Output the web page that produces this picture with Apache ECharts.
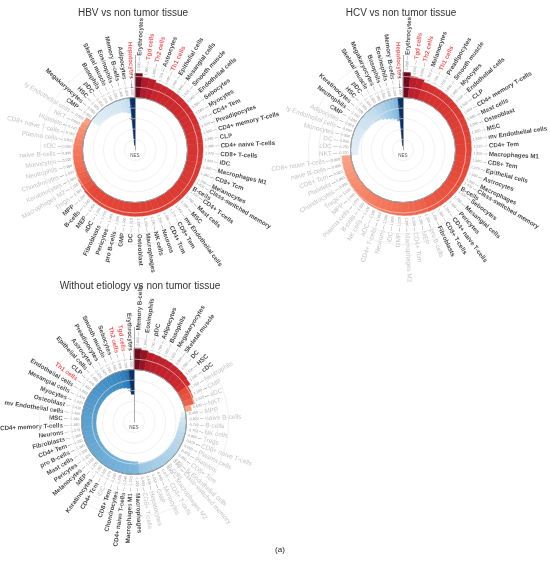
<!DOCTYPE html>
<html>
<head>
<meta charset="utf-8">
<script src="https://cdn.jsdelivr.net/npm/echarts@6/dist/echarts.min.js"></script>
<style>
  html, body { margin: 0; padding: 0; background: #fff; }
  #main { width: 550px; height: 561px; }
</style>
</head>
<body>
<div id="main"></div>
<script>
// HBV vs non tumor tissue (clockwise from 12 o'clock, NES descending)
const CATS_HBV = ['Erythrocytes','Tgd cells','Th2 cells','Astrocytes','Th1 cells','Epithelial cells','Mesangial cells','Smooth muscle','Endothelial cells','Sebocytes','Myocytes','CD4+ Tem','Preadipocytes','CD4+ memory T-cells','CLP','CD4+ naive T-cells','CD8+ T-cells','iDC','Macrophages M1','CD8+ Tcm','Melanocytes','Class-switched memory B-cells','CD4+ T-cells','Mast cells','MSC','mv Endothelial cells','CD8+ Tem','CD4+ Tcm','Neurons','NK cells','Macrophages','Osteoblast','DC','GMP','pro B-cells','Pericytes','Fibroblasts','aDC','MEP','B-cells','MPP','Tregs','Macrophages M2','Keratinocytes','Chondrocytes','Neutrophils','Monocytes','naive B-cells','cDC','Plasma cells','CD8+ naive T-cells','Platelets','NKT','ly Endothelial cells','CMP','Megakaryocytes','HSC','pDC','Basophils','Skeletal muscle','Eosinophils','Memory B-cells','Adipocytes','Hepatocytes'];
const NES_HBV = [2.30,1.98,1.92,1.72,1.69,1.66,1.64,1.62,1.60,1.58,1.56,1.55,1.53,1.50,1.49,1.48,1.47,1.46,1.45,1.44,1.43,1.42,1.41,1.40,1.39,1.38,1.37,1.36,1.35,1.34,1.33,1.32,1.31,1.30,1.29,1.28,1.27,1.26,1.25,1.24,1.22,1.15,1.10,1.05,1.00,0.96,0.92,0.89,0.85,0.80,0.75,0.71,0.65,0.55,-0.90,-0.95,-1.00,-1.05,-1.10,-1.15,-1.20,-1.30,-1.45,-4.55];
const GREY_HBV = ['Tregs','Macrophages M2','Keratinocytes','Chondrocytes','Neutrophils','Monocytes','naive B-cells','cDC','Plasma cells','CD8+ naive T-cells','Platelets','NKT','ly Endothelial cells'];

// HCV vs non tumor tissue
const CATS_HCV = ['Erythrocytes','Tgd cells','Th2 cells','Melanocytes','Th1 cells','Preadipocytes','Smooth muscle','Myocytes','Endothelial cells','CLP','CD4+ memory T-cells','Mast cells','Osteoblast','MSC','mv Endothelial cells','CD4+ Tem','Macrophages M1','CD8+ Tem','Epithelial cells','Astrocytes','Macrophages','Class-switched memory B-cells','Sebocytes','Mesangial cells','Pericytes','CD4+ naive T-cells','CD8+ T-cells','Fibroblasts','pro B-cells','MEP','CD4+ Tcm','Macrophages M2','GMP','iDC','Neurons','CD4+ T-cells','aDC','NK cells','B-cells','Plasma cells','MPP','Tregs','Chondrocytes','Platelets','CD8+ Tcm','naive B-cells','CD8+ naive T-cells','NKT','cDC','DC','Monocytes','ly Endothelial cells','Adipocytes','CMP','Neutrophils','Keratinocytes','HSC','pDC','Skeletal muscle','Megakaryocytes','Basophils','Eosinophils','Memory B-cells','Hepatocytes'];
const NES_HCV = [2.40,2.05,2.00,1.75,1.72,1.70,1.68,1.66,1.64,1.62,1.60,1.58,1.56,1.55,1.53,1.51,1.50,1.48,1.47,1.46,1.45,1.43,1.42,1.40,1.39,1.38,1.36,1.35,1.30,1.28,1.26,1.24,1.22,1.20,1.18,1.16,1.14,1.12,1.10,1.07,1.04,1.01,0.98,0.95,0.92,0.89,0.86,-0.70,-0.75,-0.80,-0.85,-0.90,-0.95,-1.10,-1.15,-1.20,-1.30,-1.40,-1.55,-1.70,-1.85,-2.00,-2.20,-4.60];
const GREY_HCV = ['pro B-cells','MEP','CD4+ Tcm','Macrophages M2','GMP','iDC','Neurons','CD4+ T-cells','aDC','NK cells','B-cells','Plasma cells','MPP','Tregs','Chondrocytes','Platelets','CD8+ Tcm','naive B-cells','CD8+ naive T-cells','NKT','cDC','DC','Monocytes','ly Endothelial cells','Adipocytes'];

// Without etiology vs non tumor tissue
const CATS_NOE = ['Memory B-cells','Eosinophils','pDC','Adipocytes','Basophils','Megakaryocytes','Skeletal muscle','DC','HSC','cDC','Neutrophils','CMP','aDC','NKT','MPP','naive B-cells','B-cells','NK cells','Tregs','CD8+ naive T-cells','Plasma cells','Platelets','CD8+ Tcm','ly Endothelial cells','Class-switched memory B-cells','Macrophages M2','CD4+ T-cells','Monocytes','GMP','Hepatocytes','CD8+ T-cells','Macrophages','Macrophages M1','CD4+ naive T-cells','Chondrocytes','CD8+ Tem','iDC','CD4+ Tcm','Keratinocytes','MEP','Melanocytes','Pericytes','Mast cells','pro B-cells','CD4+ Tem','Fibroblasts','Neurons','CD4+ memory T-cells','MSC','mv Endothelial cells','Osteoblast','Myocytes','Mesangial cells','Endothelial cells','Th1 cells','CLP','Epithelial cells','Astrocytes','Preadipocytes','Smooth muscle','Sebocytes','Th2 cells','Tgd cells','Erythrocytes'];
const NES_NOE = [2.05,1.90,1.75,1.70,1.66,1.63,1.60,1.56,1.52,1.45,1.15,1.10,1.02,0.60,-0.45,-0.60,-0.70,-0.75,-0.80,-0.82,-0.85,-0.87,-0.89,-0.91,-0.93,-0.95,-0.97,-0.99,-1.01,-1.03,-1.05,-1.20,-1.22,-1.24,-1.25,-1.26,-1.27,-1.28,-1.29,-1.30,-1.31,-1.32,-1.33,-1.34,-1.35,-1.36,-1.37,-1.38,-1.39,-1.40,-1.41,-1.42,-1.43,-1.44,-1.46,-1.47,-1.48,-1.50,-1.52,-1.55,-1.58,-1.65,-1.75,-2.35];
const GREY_NOE = ['Neutrophils','CMP','aDC','NKT','MPP','naive B-cells','B-cells','NK cells','Tregs','CD8+ naive T-cells','Plasma cells','Platelets','CD8+ Tcm','ly Endothelial cells','Class-switched memory B-cells','Macrophages M2','CD4+ T-cells','Monocytes','GMP','Hepatocytes','CD8+ T-cells','iDC'];

const HIGHLIGHT = ['Tgd cells','Th1 cells','Th2 cells','Hepatocytes'];
const TITLES = ['HBV vs non tumor tissue','HCV vs non tumor tissue','Without etiology vs non tumor tissue'];
const TICK_LABELS = [-2, -1, 1, 2];

const FONT = 'Liberation Sans, Arial, sans-serif';
const RMIN = -5, RMAX = 4, RADIUS = 94.5;
const R0 = RADIUS * (0 - RMIN) / (RMAX - RMIN);
const PAD = 0.2;
const REDS = ['#f9a183','#f4765a','#e54636','#cf2a2e','#b71c2a','#6e0b1c'];
const BLUES = ['#08306b','#0b4f91','#2272b2','#3d8cc3','#73b1d8','#a3cce5','#c8e0ef','#e1eef7'];

const charts = [
  { cats: CATS_HBV, nes: NES_HBV, grey: GREY_HBV, center: [135, 150], title: TITLES[0], tx: 128, ty: 3 },
  { cats: CATS_HCV, nes: NES_HCV, grey: GREY_HCV, center: [403, 150], title: TITLES[1], tx: 396, ty: 3 },
  { cats: CATS_NOE, nes: NES_NOE, grey: GREY_NOE, center: [134, 422], title: TITLES[2], tx: 135, ty: 276 }
];

function barColor(v, vals) {
  const side = vals.filter(x => (v >= 0 ? x >= 0 : x < 0));
  const lo = Math.min(...side), hi = Math.max(...side);
  const t = hi === lo ? 1 : (v - lo) / (hi - lo);
  return echarts.color.lerp(t, v >= 0 ? REDS : BLUES);
}

// long names wrap onto a second line, as in the figure
function splitName(name) {
  const m = name.match(/^(.{18,}) (\S+)$/);
  return m ? [m[1], m[2]] : [name];
}

function labelItem(name, v, i, n, grey) {
  const theta = 90 - (i + 0.5) * 360 / n;
  const right = theta > -90;
  const num = v.toFixed(3);
  const st = grey.includes(name) ? 'g' : (HIGHLIGHT.includes(name) ? 'r' : 'b');
  const parts = splitName(name);
  let text = right
    ? '{v|' + num + '}{d| — }{' + st + '|' + parts[0] + '}'
    : '{' + st + '|' + parts[0] + '}{d| — }{v|' + num + '}';
  if (parts[1]) text += '\n{' + st + '|' + parts[1] + '}';
  return {
    value: [Math.max(v, 0) + PAD, name],
    label: { rotate: right ? theta : theta + 180, align: right ? 'left' : 'right', formatter: text }
  };
}

const option = {
  animation: false,
  title: charts.map(c => ({
    text: c.title, left: c.tx, top: c.ty, textAlign: 'center',
    textStyle: { fontFamily: FONT, fontSize: 10, fontWeight: 'normal', color: '#333' }
  })).concat([{
    text: '(a)', left: 275, top: 541, textAlign: 'center',
    textStyle: { fontFamily: FONT, fontSize: 8, fontWeight: 'normal', color: '#222' }
  }]),
  polar: [], angleAxis: [], radiusAxis: [], series: []
};

charts.forEach((c, k) => {
  const main = 2 * k, ring = 2 * k + 1;
  option.polar.push({ center: c.center, radius: RADIUS });
  option.polar.push({ center: c.center, radius: R0 });
  option.angleAxis.push({
    polarIndex: main, type: 'category', data: c.cats, startAngle: 90, clockwise: true,
    axisLine: { show: false }, axisTick: { show: false }, axisLabel: { show: false }, splitLine: { show: false }
  });
  option.angleAxis.push({
    polarIndex: ring, type: 'value', min: 0, max: 1, z: 10,
    axisLine: { show: true, lineStyle: { color: '#222', width: 0.8 } },
    axisTick: { show: false }, axisLabel: { show: false }, splitLine: { show: false }
  });
  option.radiusAxis.push({
    polarIndex: main, type: 'value', min: RMIN, max: RMAX, interval: 1, z: 12,
    name: 'NES', nameLocation: 'start', nameGap: 3,
    nameTextStyle: { fontFamily: FONT, fontSize: 4.5, color: '#555', verticalAlign: 'top' },
    axisLine: { show: true, lineStyle: { color: '#888', width: 0.7 } },
    axisTick: { show: false },
    axisLabel: {
      fontFamily: FONT, fontSize: 4.5, color: '#666', margin: 2,
      formatter: v => (TICK_LABELS.includes(v) ? String(v) : '')
    },
    splitLine: { show: true, lineStyle: { color: '#e8e8e8', width: 0.6 } }
  });
  option.radiusAxis.push({ polarIndex: ring, type: 'value', show: false, min: 0, max: 1 });

  option.series.push({
    type: 'bar', coordinateSystem: 'polar', polarIndex: main, barCategoryGap: '0%',
    silent: true,
    data: c.nes.map(v => {
      const col = barColor(v, c.nes);
      return { value: v, itemStyle: { color: col, borderColor: col, borderWidth: 0.5 } };
    })
  });
  option.series.push({
    type: 'scatter', coordinateSystem: 'polar', polarIndex: main, symbolSize: 1,
    silent: true, itemStyle: { color: 'transparent' },
    label: {
      show: true, position: 'inside', verticalAlign: 'middle', fontFamily: FONT, lineHeight: 6.5,
      rich: {
        v: { fontFamily: FONT, fontSize: 3.6, color: '#777' },
        d: { fontFamily: FONT, fontSize: 4.2, color: '#444' },
        b: { fontFamily: FONT, fontSize: 6.2, fontWeight: 'bold', color: '#111' },
        r: { fontFamily: FONT, fontSize: 6.2, fontWeight: 'bold', color: '#ee2b2b' },
        g: { fontFamily: FONT, fontSize: 6.4, color: '#b3b3b3' }
      }
    },
    data: c.cats.map((name, i) => labelItem(name, c.nes[i], i, c.cats.length, c.grey))
  });
});

const chart = echarts.init(document.getElementById('main'), null, { renderer: 'canvas' });
chart.setOption(option);
</script>
</body>
</html>
